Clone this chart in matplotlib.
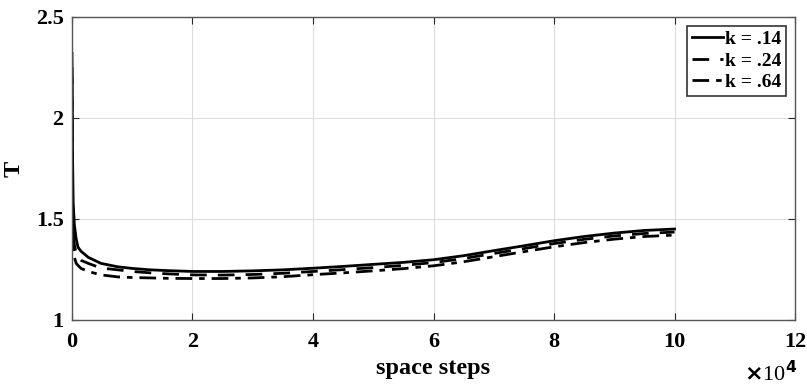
import matplotlib
matplotlib.use("Agg")
import matplotlib.pyplot as plt

# space step positions and temperature for each k
steps = [0, 100, 200, 400, 700, 1000, 1500, 2700, 4800, 7600, 10000, 13000,
         16000, 20000, 25000, 30000, 35000, 40000, 45000, 50000, 55000,
         60000, 65000, 70000, 75000, 80000, 85000, 90000, 95000, 100000]

T_k014 = [2.32, 1.80, 1.58, 1.47, 1.40, 1.36, 1.34, 1.31, 1.28, 1.263, 1.255, 1.248,
          1.244, 1.24, 1.24, 1.243, 1.248, 1.256, 1.265, 1.275, 1.285,
          1.298, 1.318, 1.343, 1.367, 1.392, 1.413, 1.43, 1.443, 1.45]

T_k024 = [2.25, 1.60, 1.45, 1.37, 1.33, 1.31, 1.295, 1.28, 1.257, 1.248, 1.24, 1.233,
          1.228, 1.223, 1.222, 1.225, 1.231, 1.24, 1.249, 1.259, 1.27,
          1.284, 1.304, 1.329, 1.353, 1.378, 1.399, 1.416, 1.428, 1.435]

T_k064 = [2.20, 1.45, 1.36, 1.31, 1.28, 1.27, 1.255, 1.24, 1.223, 1.213, 1.21, 1.208,
          1.206, 1.205, 1.205, 1.208, 1.214, 1.224, 1.233, 1.243, 1.254,
          1.268, 1.288, 1.313, 1.338, 1.362, 1.383, 1.40, 1.413, 1.42]

xticks = [0, 20000, 40000, 60000, 80000, 100000, 120000]
xtick_labels = ["0", "2", "4", "6", "8", "10", "12"]
yticks = [1, 1.5, 2, 2.5]
ytick_labels = ["1", "1.5", "2", "2.5"]

plt.rcParams["font.family"] = ["Liberation Serif", "DejaVu Serif"]
plt.rcParams["font.weight"] = "bold"

fig = plt.figure(figsize=(8.07, 3.85), dpi=100)
ax = fig.add_axes([0.0892, 0.169, 0.896, 0.787])

ax.plot(steps, T_k014, color="black", lw=2.0, ls="-", label="k = .14")
ax.plot(steps, T_k024, color="black", lw=2.0, ls=(0, (6, 4)), label="k = .24")
ax.plot(steps, T_k064, color="black", lw=2.0, ls=(0, (6, 2.5, 2, 2.5)), label="k = .64")

ax.set_xlim(0, 120000)
ax.set_ylim(1, 2.5)
ax.set_xticks(xticks)
ax.set_xticklabels(xtick_labels)
ax.set_yticks(yticks)
ax.set_yticklabels(ytick_labels)
ax.tick_params(direction="in", top=True, right=True, labelsize=16, length=5,
               width=0.8, color="#262626")
ax.tick_params(axis="x", pad=9)
ax.tick_params(axis="y", pad=6)
ax.grid(True, color="#dcdcdc", lw=0.8)
for s in ax.spines.values():
    s.set_color("#555555")
    s.set_linewidth(1.0)

ax.set_xlabel("space steps", fontsize=17.5, fontweight="bold", labelpad=4)
ax.set_ylabel("T", fontsize=17.5, fontweight="bold", labelpad=8)
fig.text(0.922, 0.03, r"$\times$10$^{4}$", fontsize=16, fontweight="normal",
         ha="left", va="center")

leg = ax.legend(loc="upper right", fontsize=14, handlelength=1.6, handletextpad=0.1,
                borderpad=0.25, labelspacing=0.2, fancybox=False, framealpha=1,
                borderaxespad=0.45)
leg.get_frame().set_edgecolor("#333333")
leg.get_frame().set_linewidth(1.2)
for t in leg.get_texts():
    t.set_fontweight("bold")

fig.savefig("out.png", dpi=100)
